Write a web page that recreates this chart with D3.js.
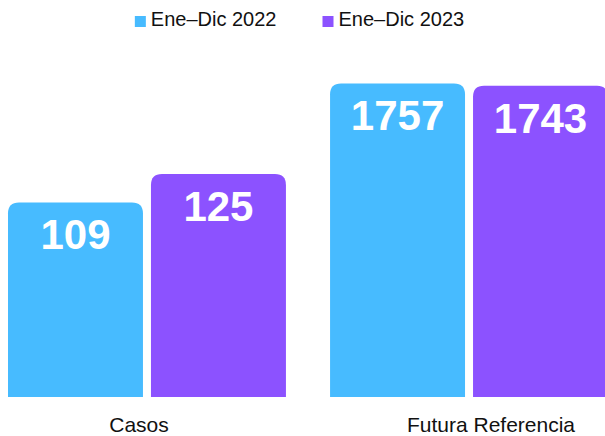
<!DOCTYPE html>
<html>
<head>
<meta charset="utf-8">
<script src="https://cdn.jsdelivr.net/npm/d3@7"></script>
<style>
  body { margin: 0; background: #fff; }
  svg { display: block; font-family: "Liberation Sans", Arial, sans-serif; }
</style>
</head>
<body>
<svg id="chart"></svg>
<script>
// données
const categories = ["Casos", "Futura Referencia"];
const series = ["Ene–Dic 2022", "Ene–Dic 2023"];
const values2022 = [109, 1757];
const values2023 = [125, 1743];
// chaque groupe a sa propre échelle (x10 pour Futura Referencia)
const categoryMax = [200, 2000];

const width = 605, height = 436;
const color = d3.scaleOrdinal(series, ["#47BBFF", "#8C52FF"]);

const svg = d3.select("#chart")
  .attr("width", width)
  .attr("height", height);

const x0 = d3.scaleBand().domain(categories).range([8, 608]).paddingInner(0.137);
const x1 = d3.scaleBand().domain(series).range([0, x0.bandwidth()]).paddingInner(0.056);
const xLabel = d3.scalePoint().domain(categories).range([139, 491]);

const yScales = categories.map((c, i) =>
  d3.scaleLinear().domain([0, categoryMax[i]]).range([397, 40]));

const data = [];
categories.forEach((c, i) => {
  data.push({cat: c, s: series[0], v: values2022[i], y: yScales[i]});
  data.push({cat: c, s: series[1], v: values2023[i], y: yScales[i]});
});

// barre avec coins supérieurs arrondis
function barPath(x, y, w, h, r) {
  return `M${x},${y + h}V${y + r}Q${x},${y} ${x + r},${y}H${x + w - r}Q${x + w},${y} ${x + w},${y + r}V${y + h}Z`;
}

const bars = svg.append("g");
bars.selectAll("path")
  .data(data)
  .join("path")
  .attr("d", d => {
    const x = x0(d.cat) + x1(d.s);
    const top = d.y(d.v);
    return barPath(x, top, x1.bandwidth(), d.y(0) - top, 11);
  })
  .attr("fill", d => color(d.s));

bars.selectAll("text")
  .data(data)
  .join("text")
  .attr("x", d => x0(d.cat) + x1(d.s) + x1.bandwidth() / 2)
  .attr("y", d => d.y(d.v) + 47)
  .attr("text-anchor", "middle")
  .attr("fill", "#fff")
  .attr("font-weight", "bold")
  .attr("font-size", 42)
  .text(d => d.v);

// étiquettes des catégories
svg.append("g").selectAll("text")
  .data(categories)
  .join("text")
  .attr("x", d => xLabel(d))
  .attr("y", 432)
  .attr("text-anchor", "middle")
  .attr("font-size", 21)
  .attr("fill", "#111")
  .text(d => d);

// légende
const legend = svg.append("g");
const items = legend.selectAll("g")
  .data(series)
  .join("g");
items.append("rect")
  .attr("width", 11)
  .attr("height", 11)
  .attr("y", 16)
  .attr("fill", d => color(d));
items.append("text")
  .attr("x", 16)
  .attr("y", 26)
  .attr("font-size", 20)
  .attr("fill", "#111")
  .text(d => d);

const widths = items.nodes().map(n => 16 + n.querySelector("text").getComputedTextLength());
const gap = 46;
const total = d3.sum(widths) + gap;
let cx = (width - total) / 2 - 3;
items.attr("transform", (d, i) => {
  const t = `translate(${cx},0)`;
  cx += widths[i] + gap;
  return t;
});
</script>
</body>
</html>
